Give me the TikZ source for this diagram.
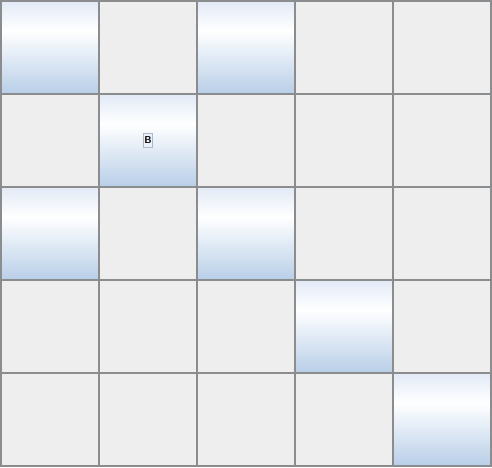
\documentclass[tikz,border=0pt]{standalone}
\usepackage{tikz}
\usetikzlibrary{positioning}
\definecolor{gridgray}{RGB}{138,140,142}
\definecolor{cellbg}{RGB}{238,238,238}
\definecolor{celltop}{RGB}{226,234,246}
\definecolor{cellbot}{RGB}{184,206,232}
\definecolor{tagedge}{RGB}{170,184,204}
\definecolor{tagfill}{RGB}{236,241,248}
\pgfdeclareverticalshading{cellglow}{100bp}{color(0bp)=(cellbot); color(25bp)=(cellbot);
  color(59bp)=(white); color(75bp)=(celltop); color(100bp)=(celltop)}
\tikzset{
  plaincell/.style={draw=gridgray,fill=cellbg,line width=1.6pt,minimum width=98pt,
    minimum height=93pt,inner sep=0pt,outer sep=0pt},
  litcell/.style={plaincell,shading=cellglow},
  tagbox/.style={draw=tagedge,fill=tagfill,line width=0.8pt,inner sep=1pt,
    minimum width=9pt,minimum height=14pt,font=\sffamily\bfseries\fontsize{10}{11}\selectfont}
}

\begin{document}
\begin{tikzpicture}[x=1pt,y=-1pt]
  \useasboundingbox (0,0) rectangle (492,467);
  % board background
  \foreach \r in {0,...,4}
    \foreach \c in {0,...,4}
      \node[plaincell] (cell-\r-\c) at (50+98*\c,47.5+93*\r) {};
  % highlighted squares
  \foreach \r/\c in {0/0,0/2,1/1,2/0,2/2,3/3,4/4}
    \node[litcell] (lit-\r-\c) at (50+98*\c,47.5+93*\r) {};
  % label
  \node[tagbox] (tagB) at (lit-1-1.center) {B};
\end{tikzpicture}
\end{document}
